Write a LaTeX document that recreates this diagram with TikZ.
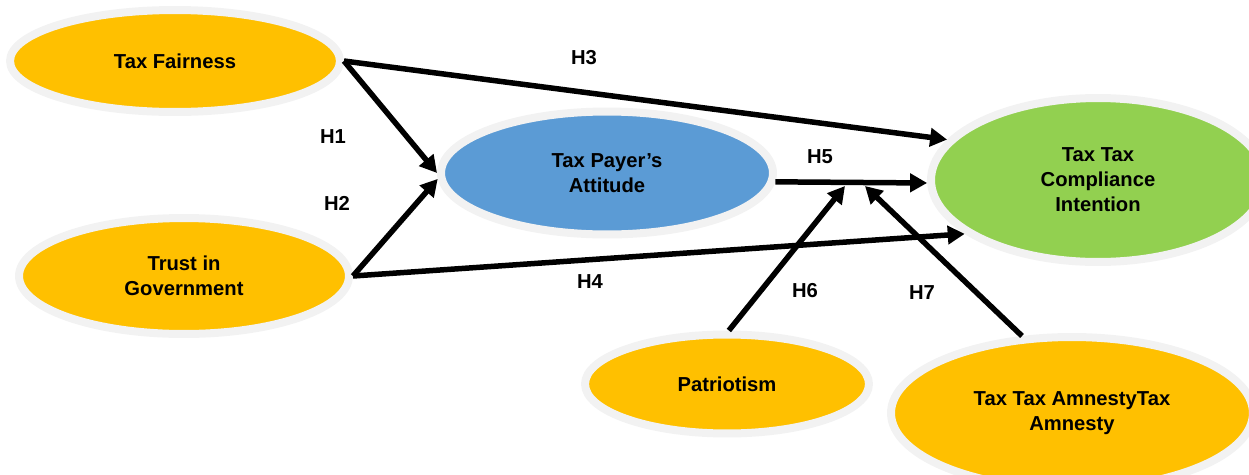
\documentclass[tikz,border=0pt]{standalone}
\usepackage{fontspec}
\setmainfont{Liberation Sans}
\usetikzlibrary{shapes.geometric,arrows.meta}
\definecolor{orng}{HTML}{FFC000}
\definecolor{blu}{HTML}{5B9BD5}
\definecolor{grn}{HTML}{92D050}
\definecolor{halo}{HTML}{F2F2F2}
\begin{document}
\begin{tikzpicture}[x=0.02cm,y=-0.02cm,
  construct/.style={ellipse,draw=halo,line width=0.16cm,inner sep=0pt,align=center,
    font=\fontsize{11.5}{14.2}\selectfont\bfseries},
  link/.style={line width=0.11cm,-{Triangle[length=0.34cm,width=0.36cm]}},
  hyp/.style={font=\fontsize{11.5}{14}\selectfont\bfseries}]
\useasboundingbox (0,0) rectangle (1249,474);
\clip (0,0) rectangle (1249,474);
% constructs
\node[construct,fill=orng,minimum width=6.6cm,minimum height=2.04cm] (fair) at (175,61) {Tax Fairness};
\node[construct,fill=orng,minimum width=6.6cm,minimum height=2.32cm] (trust) at (184,276) {Trust in\\Government};
\node[construct,fill=blu,minimum width=6.64cm,minimum height=2.46cm] (att) at (607,173) {Tax Payer’s\\Attitude};
\node[construct,fill=grn,minimum width=6.68cm,minimum height=3.28cm] (tci) at (1098,180) {Tax Tax\\Compliance\\Intention};
\node[construct,fill=orng,minimum width=5.68cm,minimum height=1.98cm] (pat) at (727,384) {Patriotism};
\node[construct,fill=orng,minimum width=7.24cm,minimum height=3.04cm] (amn) at (1072,413) {Tax Tax AmnestyTax\\Amnesty};
\coordinate (h6tip) at (845,186);
\coordinate (h7tip) at (865,186);
% paths
\draw[link] (fair.east)--(att.west);
\draw[link] (trust.east)--(att.182);
\draw[link] (fair.east)--(tci.165);
\draw[link] (trust.east)--(tci.202);
\draw[link] (att.-3)--(tci.181);
\draw[link] (pat.88)--(h6tip);
\draw[link] (amn.123)--(h7tip);
% labels
\node[hyp] (h1) at (333,137) {H1};
\node[hyp] (h2) at (337,203) {H2};
\node[hyp] (h3) at (584,58) {H3};
\node[hyp] (h4) at (590,282) {H4};
\node[hyp] (h5) at (820,157) {H5};
\node[hyp] (h6) at (805,291) {H6};
\node[hyp] (h7) at (922,293) {H7};
\end{tikzpicture}
\end{document}
